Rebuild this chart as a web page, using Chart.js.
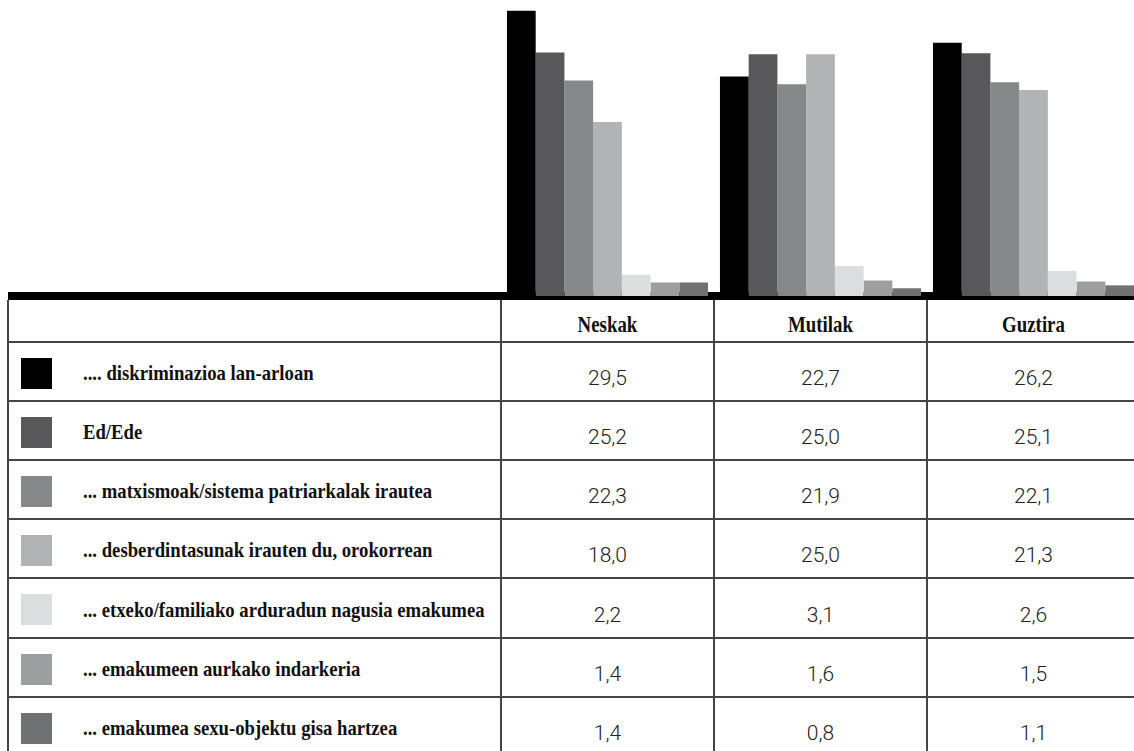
<!DOCTYPE html>
<html>
<head>
<meta charset="utf-8">
<script src="https://cdn.jsdelivr.net/npm/chart.js@4.4.1/dist/chart.umd.min.js"></script>
<style>
  html, body { margin: 0; padding: 0; background: #fff; overflow: hidden; width: 1134px; height: 751px; }
  #wrap { position: relative; width: 1134px; height: 751px; overflow: hidden; background: #fff; }
  #chartBox { position: absolute; left: 0; top: 0; width: 1150px; height: 310px; z-index: 2; }
  .topbar { position: absolute; left: 8px; top: 292px; width: 1140px; height: 8px; background: #000; z-index: 1; }
  .hl { position: absolute; height: 2px; background: #444; z-index: 1; }
  .vl { position: absolute; width: 2px; background: #444; z-index: 1; }
  .sw { position: absolute; width: 31px; height: 31px; }
  .lbl { position: absolute; font-family: "Liberation Serif", "Times New Roman", serif; font-weight: bold;
         font-size: 22px; line-height: 22px; color: #111; white-space: nowrap;
         transform-origin: 0 0; transform: scaleX(0.85); }
  .hdr { position: absolute; font-family: "Liberation Serif", "Times New Roman", serif; font-weight: bold;
         font-size: 23px; line-height: 23px; color: #111; white-space: nowrap; text-align: center;
         transform-origin: 50% 0; transform: scaleX(0.82); }
  .num { position: absolute; font-family: Roboto, "Liberation Sans", sans-serif; font-weight: 300;
         font-size: 21px; line-height: 21px; color: #222; white-space: nowrap; text-align: center; }
</style>
</head>
<body>
<div id="wrap">
  <div id="chartBox"><canvas id="c" width="1150" height="310" style="width:1150px;height:310px"></canvas></div>
  <div class="topbar"></div>
  <div id="table"></div>
</div>
<script>
// ---- Data ----
const categories = ['Neskak', 'Mutilak', 'Guztira'];
const seriesLabels = [
  '.... diskriminazioa lan-arloan',
  'Ed/Ede',
  '... matxismoak/sistema patriarkalak irautea',
  '... desberdintasunak irauten du, orokorrean',
  '... etxeko/familiako arduradun nagusia emakumea',
  '... emakumeen aurkako indarkeria',
  '... emakumea sexu-objektu gisa hartzea'
];
const diskriminazioa  = [29.5, 22.7, 26.2];
const edEde           = [25.2, 25.0, 25.1];
const matxismoa       = [22.3, 21.9, 22.1];
const desberdintasuna = [18.0, 25.0, 21.3];
const etxekoArduraduna = [2.2, 3.1, 2.6];
const indarkeria      = [1.4, 1.6, 1.5];
const sexuObjektua    = [1.4, 0.8, 1.1];
const seriesValues = [diskriminazioa, edEde, matxismoa, desberdintasuna, etxekoArduraduna, indarkeria, sexuObjektua];

// ---- Styles ----
const seriesColors = ['#000000', '#58585a', '#868789', '#b2b3b5', '#dcdddf', '#9d9ea0', '#707173'];

// ---- Chart ----
new Chart(document.getElementById('c').getContext('2d'), {
  type: 'bar',
  data: {
    labels: categories,
    datasets: seriesValues.map((vals, i) => ({
      label: seriesLabels[i],
      data: vals,
      backgroundColor: seriesColors[i],
      borderWidth: 0,
      categoryPercentage: 0.944,
      barPercentage: 1
    }))
  },
  options: {
    responsive: false,
    devicePixelRatio: 1,
    animation: false,
    layout: { padding: { left: 501, right: 10, top: 6, bottom: 0 } },
    plugins: { legend: { display: false }, tooltip: { enabled: false } },
    scales: {
      x: {
        z: 1,
        grid: { display: true, drawOnChartArea: false, drawTicks: true, tickLength: 14, color: '#444', lineWidth: 2, offset: true },
        border: { display: true, color: '#000', width: 8 },
        ticks: { display: false }
      },
      y: { display: false, min: 0, max: 30 }
    }
  }
});

// ---- Table (built from the same arrays) ----
const table = document.getElementById('table');
const tableLeft = 8, colX = [501, 714, 927, 1140];
const headerTop = 300, rowTop0 = 342, rowH = 59.1;
function el(cls, css, text) {
  const d = document.createElement('div');
  d.className = cls;
  Object.assign(d.style, css);
  if (text !== undefined) d.textContent = text;
  table.appendChild(d);
  return d;
}
// horizontal lines
for (let i = 0; i <= seriesLabels.length; i++) {
  const y = rowTop0 + i * rowH;
  el('hl', { left: tableLeft + 'px', top: (y - 1) + 'px', width: (colX[3] - tableLeft) + 'px' });
}
// vertical lines
[tableLeft].concat(colX).forEach(x => {
  el('vl', { left: (x - 1) + 'px', top: headerTop + 'px', height: '470px' });
});
// header
categories.forEach((c, j) => {
  el('hdr', { left: colX[j] + 'px', width: (colX[j + 1] - colX[j]) + 'px', top: (332 - 0.8375 * 23) + 'px' }, c);
});
// rows
seriesLabels.forEach((lab, i) => {
  const top = rowTop0 + i * rowH;
  el('sw', { left: '21px', top: (top + 16) + 'px', background: seriesColors[i] });
  el('lbl', { left: '83px', top: (top + 20.1) + 'px' }, lab);
  seriesValues[i].forEach((v, j) => {
    el('num', { left: colX[j] + 'px', width: (colX[j + 1] - colX[j]) + 'px', top: (top + 26.1) + 'px' },
       v.toFixed(1).replace('.', ','));
  });
});
</script>
</body>
</html>
